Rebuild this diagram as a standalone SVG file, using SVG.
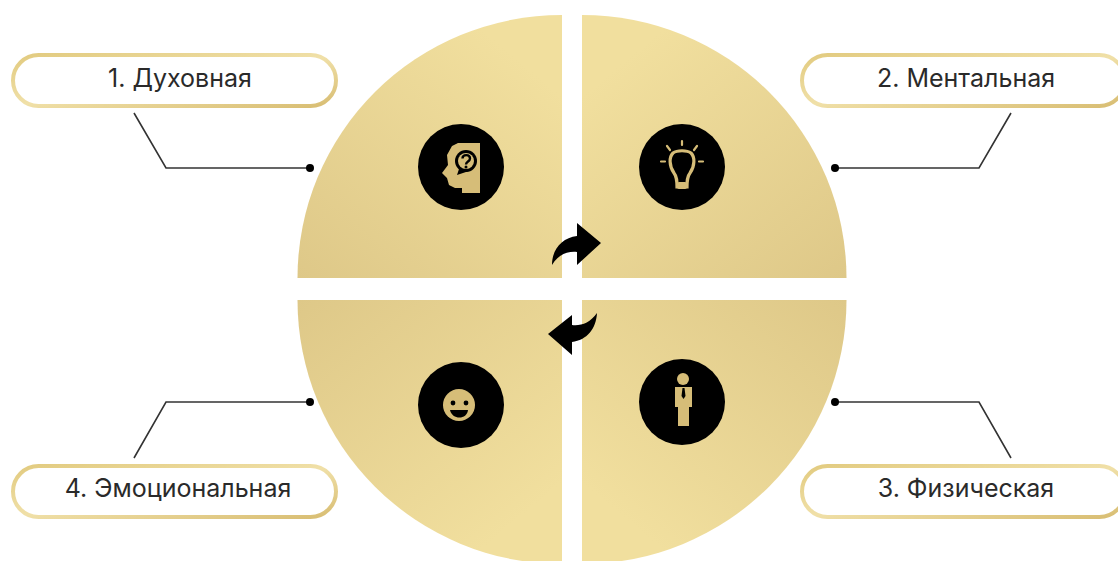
<svg xmlns="http://www.w3.org/2000/svg" width="1118" height="561" viewBox="0 0 1118 561">
<defs>
<linearGradient id="gTop" x1="0" y1="1" x2="0.75" y2="0.1"><stop offset="0" stop-color="#dec888"/><stop offset="1" stop-color="#f1df9e"/></linearGradient>
<linearGradient id="gTopR" x1="1" y1="1" x2="0.25" y2="0.1"><stop offset="0" stop-color="#dec888"/><stop offset="1" stop-color="#f1df9e"/></linearGradient>
<linearGradient id="gBotL" x1="0" y1="0" x2="0.75" y2="0.9"><stop offset="0" stop-color="#dec888"/><stop offset="1" stop-color="#f1df9e"/></linearGradient>
<linearGradient id="gBotR" x1="1" y1="0" x2="0.25" y2="0.9"><stop offset="0" stop-color="#dec888"/><stop offset="1" stop-color="#f1df9e"/></linearGradient>
<linearGradient id="gBorder" x1="0" y1="0" x2="1" y2="1"><stop offset="0" stop-color="#e2cb80"/><stop offset="0.5" stop-color="#f0e0a8"/><stop offset="1" stop-color="#d8bd72"/></linearGradient>
</defs>
<style>
.lbl{fill:#fff;stroke:url(#gBorder);stroke-width:4}
.txt{font-family:Inter,"Liberation Sans",Arial,sans-serif;font-size:25px;font-weight:400;fill:#2a2a2a;text-anchor:middle}
.con{fill:none;stroke:#333;stroke-width:1.6}
.dot{fill:#000}
.ic{fill:#000}
.g{fill:#d6bd78}
.gs{fill:none;stroke:#d6bd78;stroke-linecap:round}
</style>
<rect width="1118" height="561" fill="#fff"/>
<g id="quadrants">
<path id="q1" d="M562 278H297.500A264.500 263 0 0 1 562 15Z" fill="url(#gTop)"/>
<path id="q2" d="M582 278H846.500A264.500 263 0 0 0 582 15Z" fill="url(#gTopR)"/>
<path id="q4" d="M562 300H297.500A264.500 264 0 0 0 562 564Z" fill="url(#gBotL)"/>
<path id="q3" d="M582 300H846.500A264.500 264 0 0 1 582 564Z" fill="url(#gBotR)"/>
</g>
<g id="connectors">
<path class="con" d="M134 113L166 168H310"/><circle class="dot" cx="310" cy="168" r="4"/>
<path class="con" d="M1011 113L979 168H835"/><circle class="dot" cx="835" cy="168" r="4"/>
<path class="con" d="M134 458L166 402H310"/><circle class="dot" cx="310" cy="402" r="4"/>
<path class="con" d="M1011 458L979 402H835"/><circle class="dot" cx="835" cy="402" r="4"/>
</g>
<g id="n1"><rect class="lbl" x="13" y="55" width="323" height="51" rx="25.500"/><text class="txt" x="180" y="87">1. Духовная</text></g>
<g id="n2"><rect class="lbl" x="802" y="55" width="323" height="51" rx="25.500"/><text class="txt" x="966" y="87">2. Ментальная</text></g>
<g id="n4"><rect class="lbl" x="13" y="466" width="323" height="51" rx="25.500"/><text class="txt" x="178" y="497">4. Эмоциональная</text></g>
<g id="n3"><rect class="lbl" x="802" y="466" width="323" height="51" rx="25.500"/><text class="txt" x="966" y="497">3. Физическая</text></g>
<g id="icon-head">
<circle class="ic" cx="461" cy="167" r="43"/>
<path class="g" d="M480 143V193H462V188H455L449 185L447 178L442 173L448 165L447 155L452 146L458 143Z"/>
<circle class="ic" cx="466" cy="161" r="11"/>
<path class="ic" d="M457 175L460 166L469 171Z"/>
<circle class="g" cx="466" cy="161" r="8"/>
<path d="M462.500 158.500C462.500 154 470 154 470 158.500C470 161.500 466 161.500 466 164.500" fill="none" stroke="#000" stroke-width="2.400"/>
<circle class="ic" cx="466" cy="167" r="1.500"/>
</g>
<g id="icon-bulb">
<circle class="ic" cx="682" cy="167" r="43"/>
<path d="M674 173C669 166 669 157 673 153C677 150 687 150 691 153C695 157 695 166 690 173C687 177 687 181 687 187H677C677 181 677 177 674 173Z" fill="none" stroke="#d6bd78" stroke-width="3.200"/>
<rect class="g" x="677" y="182" width="10" height="7" rx="2"/>
<path class="gs" stroke-width="2.200" d="M682 141V145M667 146L670 150M697 146L694 150M661 161.500H665M699 161.500H703"/>
</g>
<g id="icon-smile">
<circle class="ic" cx="461" cy="405" r="43"/>
<circle class="g" cx="459" cy="405" r="16"/>
<circle class="ic" cx="453" cy="403" r="2.400"/><circle class="ic" cx="466" cy="403" r="2.400"/>
<path class="ic" d="M450 410H468C467 420 452 420 450 410Z"/>
</g>
<g id="icon-man">
<circle class="ic" cx="682" cy="402" r="43"/>
<circle class="g" cx="683" cy="379" r="6"/>
<path class="g" d="M675 387H692V407H689V426H678V407H675Z"/>
<path class="ic" d="M682.500 388H684.500L685.500 396L683.500 399L681.500 396Z"/>
</g>
<g id="arrow-top"><path class="ic" d="M552 265C552 249 562 238 577 236V223L601 243L577 265V252C567 251 558 255 552 265Z"/></g>
<g id="arrow-bottom"><path class="ic" d="M597 313C596 329 587 340 572 342V355L548 334L572 315V325C581 326 590 323 597 313Z"/></g>
</svg>
